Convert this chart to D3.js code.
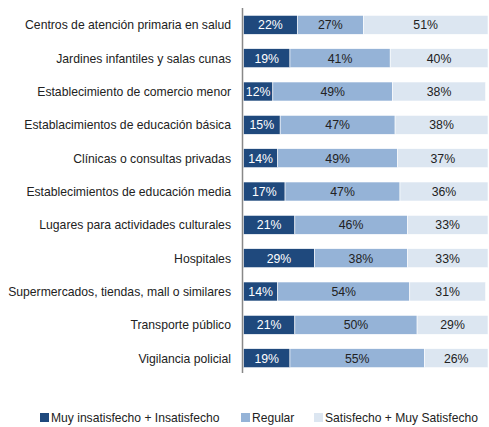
<!DOCTYPE html>
<html>
<head>
<meta charset="utf-8">
<script src="https://cdn.jsdelivr.net/npm/d3@7"></script>
<style>
body{margin:0;background:#fff}
text{font-family:"Liberation Sans",Arial,sans-serif}
</style>
</head>
<body>
<svg id="chart" width="489" height="427"></svg>
<script>
var categories = ["Centros de atención primaria en salud","Jardines infantiles y salas cunas","Establecimiento de comercio menor","Establacimientos de educación básica","Clínicas o consultas privadas","Establecimientos de educación media","Lugares para actividades culturales","Hospitales","Supermercados, tiendas, mall o similares","Transporte público","Vigilancia policial"]
var insatisfecho = [22,19,12,15,14,17,21,29,14,21,19]
var regular = [27,41,49,47,49,47,46,38,54,50,55]
var satisfecho = [51,40,38,38,37,36,33,33,31,29,26]
var seriesNames = ["Muy insatisfecho + Insatisfecho","Regular","Satisfecho + Muy Satisfecho"]
var colors = ["#1f497d","#95b3d7","#dce6f1"]
var textColors = ["#fff","#222","#222"]

var svg = d3.select("#chart")
var x0 = 243.5, x1 = 488
var xScale = d3.scaleLinear().domain([0,100]).range([x0,x1])
var yScale = d3.scaleBand().domain(categories).range([8,375]).paddingInner(0.43).paddingOuter(0.22)

var rows = categories.map(function(c,i){
    var vals = [insatisfecho[i],regular[i],satisfecho[i]]
    var start = 0
    return vals.map(function(v,j){
        var seg = {cat:c,s:j,v:v,x0:start,x1:start+v}
        start += v
        return seg
    })
})
var segs = [].concat.apply([],rows)

svg.selectAll(".seg").data(segs).enter().append("rect")
    .attr("class","seg")
    .attr("x",function(d){return xScale(d.x0)})
    .attr("width",function(d){return xScale(d.x1)-xScale(d.x0)})
    .attr("y",function(d){return yScale(d.cat)})
    .attr("height",yScale.bandwidth())
    .attr("fill",function(d){return colors[d.s]})
    .attr("stroke","#fff").attr("stroke-width",0.6)

svg.selectAll(".val").data(segs).enter().append("text")
    .attr("class","val")
    .text(function(d){return d.v+"%"})
    .attr("x",function(d){return (xScale(d.x0)+xScale(d.x1))/2})
    .attr("y",function(d){return yScale(d.cat)+yScale.bandwidth()/2})
    .attr("dy","0.36em")
    .attr("text-anchor","middle")
    .attr("font-size",12.3)
    .attr("fill",function(d){return textColors[d.s]})

// category labels
svg.selectAll(".cat").data(categories).enter().append("text")
    .attr("class","cat")
    .text(function(d){return d})
    .attr("x",231)
    .attr("y",function(d){return yScale(d)+yScale.bandwidth()/2})
    .attr("dy","0.36em")
    .attr("text-anchor","end")
    .attr("font-size",12.2)
    .attr("fill","#222")

// axis line
svg.append("line").attr("x1",242.5).attr("x2",242.5).attr("y1",8).attr("y2",373)
    .attr("stroke","#888").attr("stroke-width",1.5)

// legend
var legendX = [40,241,314]
var lg = svg.selectAll(".leg").data(seriesNames).enter().append("g")
    .attr("class","leg")
    .attr("transform",function(d,i){return "translate("+legendX[i]+",413)"})
lg.append("rect").attr("width",9).attr("height",9).attr("fill",function(d,i){return colors[i]})
lg.append("text").text(function(d){return d}).attr("x",11).attr("y",4.5).attr("dy","0.36em")
    .attr("font-size",12.1).attr("fill","#222")
</script>
</body>
</html>
